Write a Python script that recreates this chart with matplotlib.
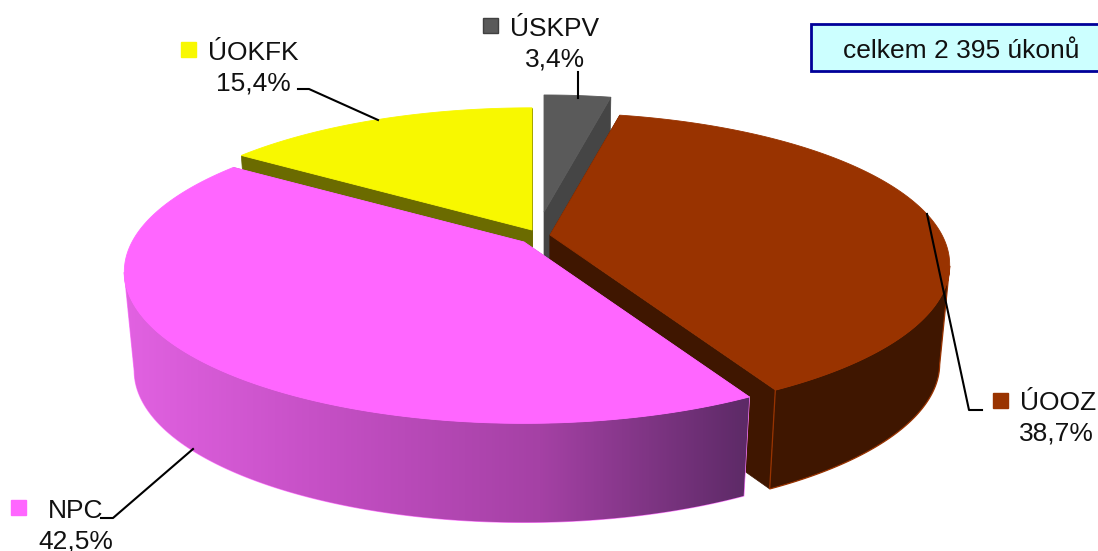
import numpy as np
import matplotlib
matplotlib.use("Agg")
import matplotlib.pyplot as plt
from matplotlib.colors import LinearSegmentedColormap
from matplotlib.patches import Polygon, Rectangle

plt.rcParams["font.family"] = ["Liberation Sans", "DejaVu Sans"]

# clockwise from 12 o'clock
labels = ["ÚSKPV", "ÚOOZ", "NPC", "ÚOKFK"]
shares = [3.4, 38.7, 42.5, 15.4]
total_text = "celkem 2 395 úkonů"

top_colors = ["#5a5a5a", "#993300", "#ff66ff", "#f8f800"]
wall_colors = ["#454545", "#3f1600", "#c04cc0", "#6b6b00"]
edge_colors = ["#4d4d4d", "#993300", "#ff80ff", "#6b6b00"]
tips = [(544, 212), (550, 235), (524, 242), (532, 230)]
radii = [0.95, 1.0, 1.0, 1.0]
draw_order = [0, 3, 1, 2]

RX, RY, K, H, SHRINK = 392, 146, 0.195, 99, 0.975


def project(tip, theta, r=1.0, bottom=False):
    u, v = r * np.sin(theta), r * np.cos(theta)
    w = 1 + K * v
    sx = SHRINK if bottom else 1.0
    x = tip[0] + sx * RX * u / w
    y = tip[1] - RY * v / w + (H if bottom else 0)
    return np.column_stack([x, y])


fig = plt.figure(figsize=(10.98, 5.51), dpi=100)
ax = fig.add_axes([0, 0, 1, 1])

edges = np.radians(np.cumsum([0] + shares) / sum(shares) * 360)
# the outer wall only faces the viewer between the two side extremes
front_start = np.arccos(-K)
front_end = 2 * np.pi - front_start

for i in draw_order:
    tip, r = tips[i], radii[i]
    th = np.linspace(edges[i], edges[i + 1], 300)
    top_arc = project(tip, th, r)
    bot_arc = project(tip, th, r, bottom=True)
    tip_bot = project(tip, np.array([0.0]), r=0.0, bottom=True)
    tip_top = np.array([tip], dtype=float)

    # the two cut faces
    for a, b in [(top_arc[0], bot_arc[0]), (top_arc[-1], bot_arc[-1])]:
        ax.add_patch(Polygon(np.vstack([tip_top, [a], [b], tip_bot]), fc=wall_colors[i],
                             ec=wall_colors[i], lw=0.5))

    # outer wall
    front = (th >= front_start) & (th <= front_end)
    if front.any():
        wall = Polygon(np.vstack([top_arc[front], bot_arc[front][::-1]]), fc=wall_colors[i],
                       ec=edge_colors[i], lw=0.9)
        ax.add_patch(wall)
        if labels[i] == "NPC":
            cmap = LinearSegmentedColormap.from_list(
                "npc", ["#e262e2", "#c44fc4", "#a541a5", "#5c2a66"])
            img = ax.imshow(np.linspace(0, 1, 256)[None, :], cmap=cmap, aspect="auto",
                            extent=[120, 750, 540, 240], zorder=wall.get_zorder())
            img.set_clip_path(wall)

    ax.add_patch(Polygon(np.vstack([tip_top, top_arc]), fc=top_colors[i],
                         ec=top_colors[i], lw=0.6, zorder=2))

# leader lines
ax.plot([578, 578], [72, 98], color="black", lw=1.5, zorder=3)
ax.plot([298, 309, 378], [89, 89, 120], color="black", lw=1.5, zorder=3)
ax.plot([927, 969, 982], [214, 410, 410], color="black", lw=1.5, zorder=3)
ax.plot([193, 113, 101], [449, 518, 518], color="black", lw=1.5, zorder=3)

# data labels: name line, value line, colour key
text_pos = [(510, 36, 525, 67), (1020, 410, 1019, 440), (48, 518, 38, 548), (208, 60, 216, 91)]
key_pos = [(483, 18), (993, 393), (11, 500), (181, 42)]
key_edges = ["#404040", "#993300", "#ff66ff", "#f8f800"]
for i, name in enumerate(labels):
    x1, y1, x2, y2 = text_pos[i]
    ax.text(x1, y1, name, fontsize=19, color="#111111", va="baseline", ha="left", zorder=4)
    value = f"{shares[i]:.1f}%".replace(".", ",")
    ax.text(x2, y2, value, fontsize=19, color="#111111", va="baseline", ha="left", zorder=4)
    ax.add_patch(Rectangle(key_pos[i], 15, 15, fc=top_colors[i], ec=key_edges[i], lw=1, zorder=4))

# total box
ax.add_patch(Rectangle((811, 24), 300, 47, fc="#ccffff", ec="#000099", lw=2, zorder=3))
ax.text(961, 58, total_text, fontsize=19, color="#111111", ha="center", va="baseline", zorder=4)

ax.set_xlim(0, 1098)
ax.set_ylim(551, 0)
ax.axis("off")

fig.savefig("out.png", dpi=100)
